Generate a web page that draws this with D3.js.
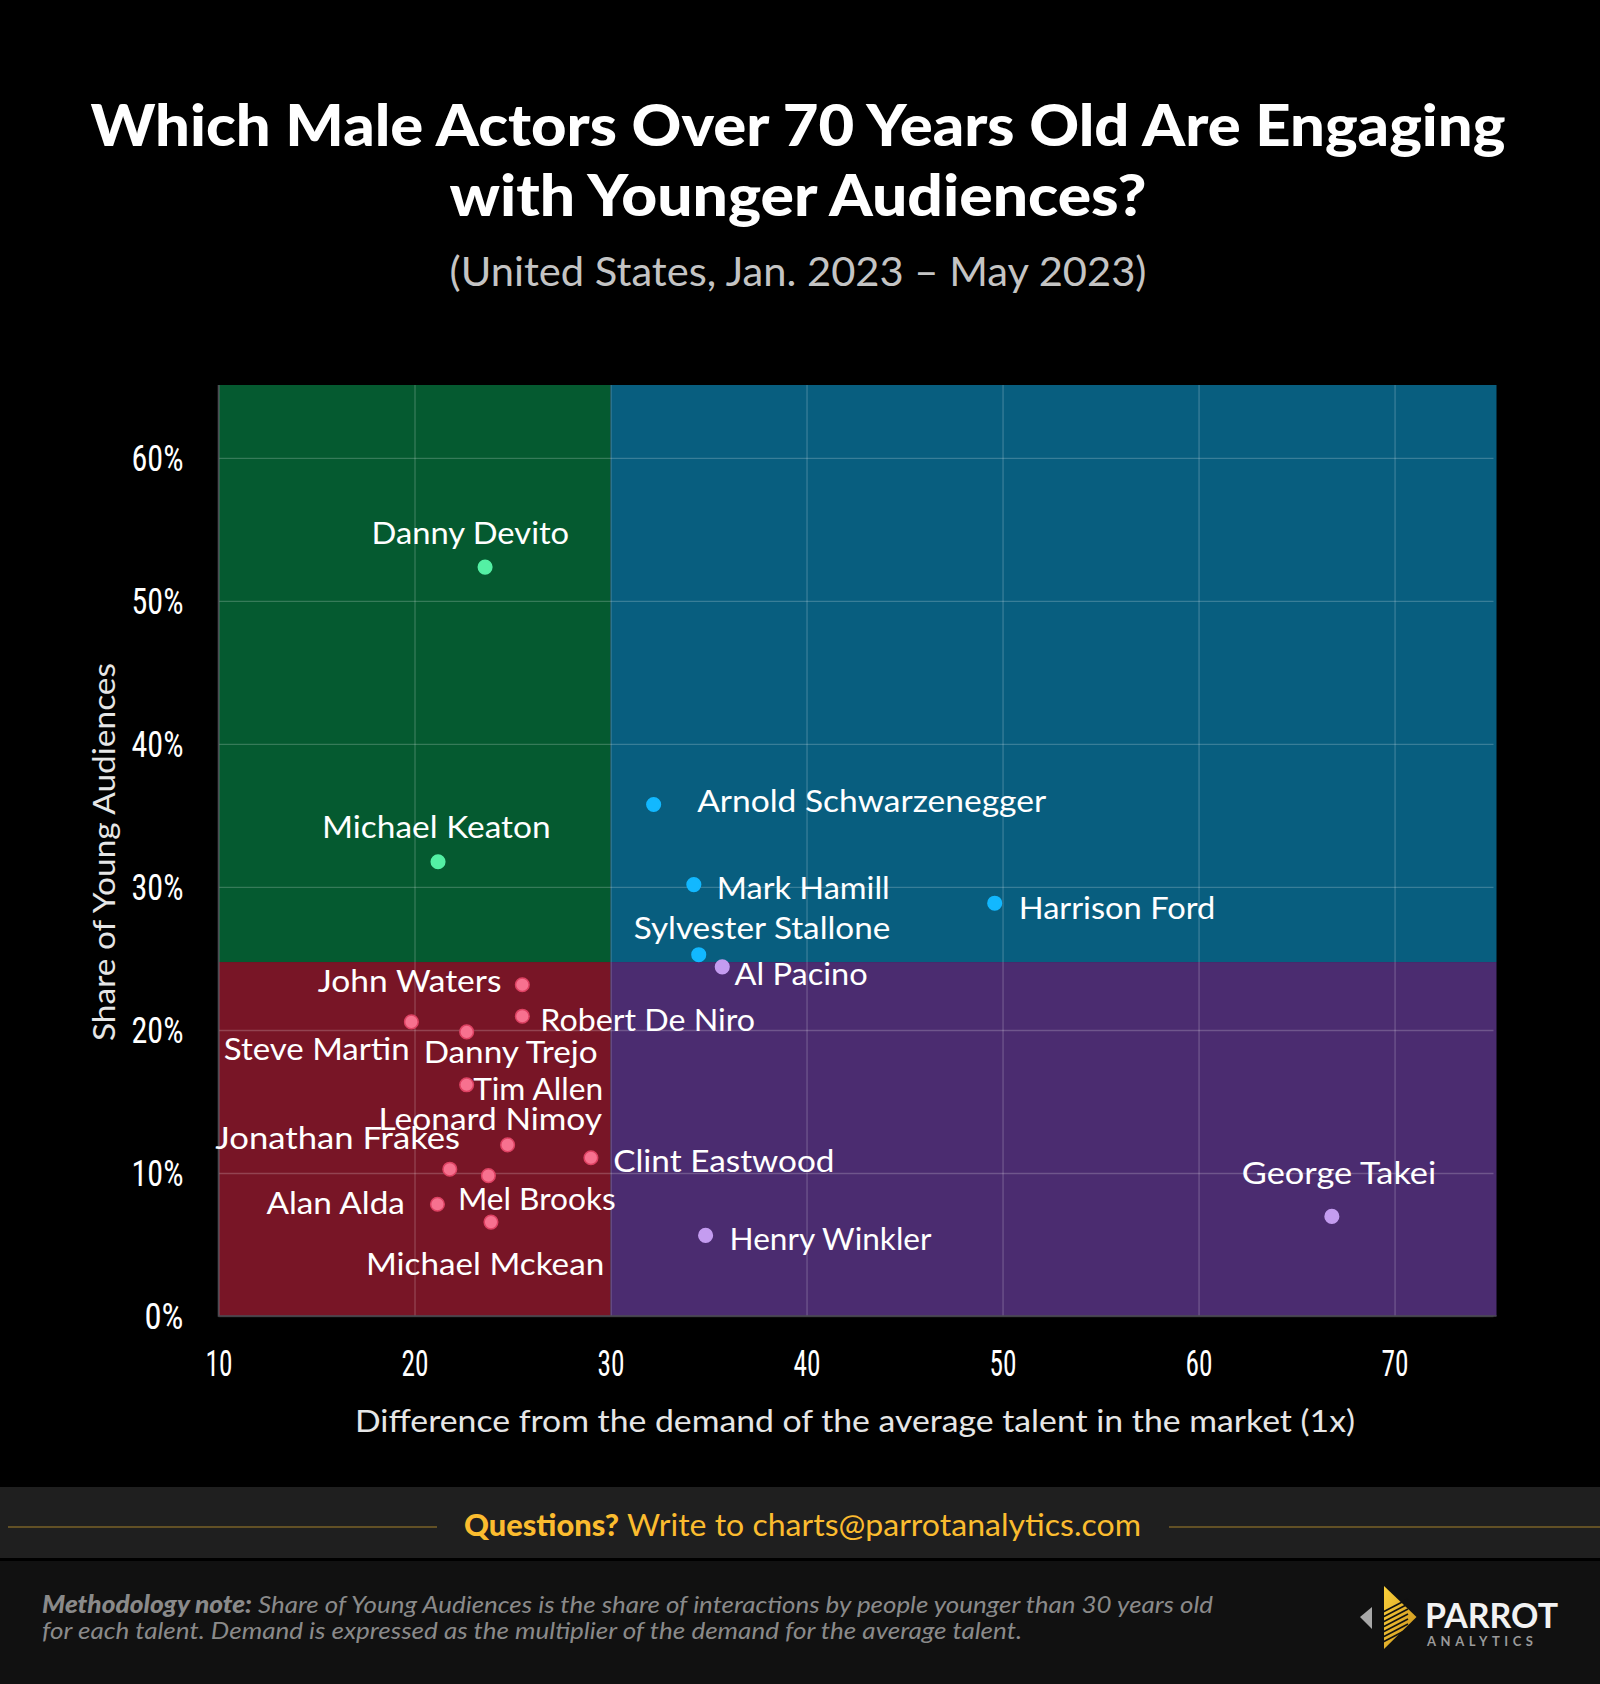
<!DOCTYPE html>
<html><head><meta charset="utf-8">
<script src="https://cdn.jsdelivr.net/npm/d3@7"></script>
<style>html,body{margin:0;padding:0;background:#000}svg{display:block}</style>
</head><body><svg id="c" width="1600" height="1684"></svg>
<script>
const names=["Danny Devito","Michael Keaton","Arnold Schwarzenegger","Mark Hamill","Harrison Ford","Sylvester Stallone","Al Pacino","George Takei","Henry Winkler","John Waters","Robert De Niro","Steve Martin","Danny Trejo","Tim Allen","Leonard Nimoy","Clint Eastwood","Jonathan Frakes","Mel Brooks","Alan Alda","Michael Mckean"];
const demand=[23.6,21.2,32.2,34.25,49.6,34.5,35.7,66.8,34.85,25.5,25.5,19.84,22.66,22.66,24.75,29.0,21.8,23.77,21.17,23.9];
const youngShare=[52.4,31.8,35.8,30.2,28.9,25.3,24.45,7.0,5.67,23.2,21.0,20.6,19.9,16.2,12.0,11.1,10.3,9.85,7.85,6.6];
const xTicks=[10,20,30,40,50,60,70];
const yTicks=[0,10,20,30,40,50,60];
const labelDx=[-113.5,-116,43.5,23,24,-65,12.3,-90,24,-204.5,18,-187.6,-43,6.5,-129,22.3,-234.5,-30.5,-171,-125];
const labelDy=[-22.5,-23.5,8,15,16,-15.5,19,-32,15.5,7.5,15,39,32,16,-14,15,-20,34.5,10.5,53];
const labelW=[197.6,228.6,349,172.9,196.5,256.6,133.2,194.4,201.9,183.6,214.8,185.8,174,130,223.4,221.2,244.8,157.8,138.5,238.3];
const F="'Lato','Noto Sans',sans-serif";
const N="'Liberation Sans Narrow','Roboto Condensed','Liberation Sans',sans-serif";
const svg=d3.select("#c");
svg.append("rect").attr("width",1600).attr("height",1684).attr("fill","#000");
const x=d3.scaleLinear().domain([10,75.2]).range([218.5,1496.5]);
const y=d3.scaleLinear().domain([0,65.1]).range([1316,385]);
const sx=30,sy=24.75;
const quads=[[10,sx,sy,65.1,"#055a30"],[sx,75.2,sy,65.1,"#085e7f"],[10,sx,0,sy,"#781526"],[sx,75.2,0,sy,"#4b2c70"]];
svg.selectAll("rect.q").data(quads).join("rect").attr("class","q")
 .attr("x",d=>x(d[0])).attr("width",d=>x(d[1])-x(d[0])).attr("y",d=>y(d[3])).attr("height",d=>y(d[2])-y(d[3])).attr("fill",d=>d[4]);
const gx=svg.append("g").attr("transform","translate(0,1316)").call(d3.axisBottom(x).tickValues(xTicks).tickSize(-931).tickPadding(34));
const gy=svg.append("g").attr("transform","translate(218.5,0)").call(d3.axisLeft(y).tickValues(yTicks).tickFormat(d=>d+"%").tickSize(-1275).tickPadding(35));
[gx,gy].forEach(g=>{g.select(".domain").remove();
 g.selectAll("line").attr("stroke","#fff").attr("stroke-opacity",.2).attr("stroke-width",1.3);
 g.selectAll("text").attr("fill","#fff").style("font-family",N).style("font-size","36px");});
gy.selectAll("text").attr("dy","0.35em").attr("textLength",d=>d===0?39:52).attr("lengthAdjust","spacingAndGlyphs");
gx.selectAll("text").attr("textLength",27).attr("lengthAdjust","spacingAndGlyphs");
svg.append("path").attr("d","M218.5,385V1316H1496.5").attr("fill","none").attr("stroke","#4a4a52").attr("stroke-width",1.6);
const pts=names.map((n,i)=>({n,d:demand[i],s:youngShare[i],dx:labelDx[i],dy:labelDy[i],w:labelW[i]}));
function col(p){return p.d<sx?(p.s>=sy?["#54f0a4","#54f0a4"]:["#f7718f","#de4263"]):(p.s>=sy?["#12b8ff","#12b8ff"]:["#c49cf0","#c49cf0"]);}
svg.append("g").selectAll("circle").data(pts).join("circle").attr("cx",p=>x(p.d)).attr("cy",p=>y(p.s)+0.5).attr("r",6.8)
 .attr("fill",p=>col(p)[0]).attr("stroke",p=>col(p)[1]).attr("stroke-width",1.5);
svg.append("g").selectAll("text").data(pts).join("text").attr("x",p=>x(p.d)+p.dx).attr("y",p=>y(p.s)+p.dy)
 .attr("fill","#fff").style("font-family",F).style("font-size","31px").attr("textLength",p=>p.w).attr("lengthAdjust","spacingAndGlyphs").text(p=>p.n);
function t(s,x0,yy,opt){const e=svg.append("text").attr("x",x0).attr("y",yy).attr("fill",opt.fill||"#fff")
 .style("font-family",F).style("font-size",opt.size+"px").style("font-weight",opt.w||400).style("font-style",opt.i?"italic":"normal");
 if(opt.anchor)e.attr("text-anchor",opt.anchor); if(opt.len)e.attr("textLength",opt.len).attr("lengthAdjust","spacingAndGlyphs"); e.text(s);return e;}
t("Which Male Actors Over 70 Years Old Are Engaging",798,146,{size:57,w:900,anchor:"middle",len:1415});
t("with Younger Audiences?",798,216,{size:57,w:900,anchor:"middle",len:697});
t("(United States, Jan. 2023 – May 2023)",798,286,{size:41,fill:"#c4c4c4",anchor:"middle",len:697});
t("Difference from the demand of the average talent in the market (1x)",855,1432,{size:31,fill:"#e6e6e6",anchor:"middle",len:1000});
t("Share of Young Audiences",0,0,{size:31,fill:"#e6e6e6",anchor:"middle",len:378}).attr("transform","translate(115,852) rotate(-90)");
// footer
svg.append("rect").attr("y",1487).attr("width",1600).attr("height",71).attr("fill","#1f1f1f");
svg.append("rect").attr("y",1561).attr("width",1600).attr("height",123).attr("fill","#111");
[[8,437],[1169,1600]].forEach(d=>svg.append("line").attr("x1",d[0]).attr("x2",d[1]).attr("y1",1527).attr("y2",1527).attr("stroke","#7a6228").attr("stroke-width",1.5));
t("Questions?",464,1536,{size:30,w:900,fill:"#fbbc2f",len:155});
t("Write to charts@parrotanalytics.com",627,1536,{size:30,fill:"#fbbc2f",len:514});
const mn="#8a8a8a";
t("Methodology note:",42,1613,{size:24,w:900,i:1,fill:mn,len:210});
t("Share of Young Audiences is the share of interactions by people younger than 30 years old",258,1613,{size:24,i:1,fill:mn,len:955});
t("for each talent. Demand is expressed as the multiplier of the demand for the average talent.",42,1639,{size:24,i:1,fill:mn,len:980});
// logo
const defs=svg.append("defs");const lg=defs.append("linearGradient").attr("id","gold").attr("x1",0).attr("y1",0).attr("x2",1).attr("y2",1);
lg.append("stop").attr("offset",0).attr("stop-color","#fbd03a");lg.append("stop").attr("offset",1).attr("stop-color","#c8901c");
svg.append("path").attr("d","M1384,1586L1416.5,1617L1384,1649Z").attr("fill","url(#gold)");
const stripeY=[1612,1617,1622,1627,1632,1637,1642];
svg.append("g").selectAll("line").data(stripeY).join("line").attr("x1",1383).attr("x2",1408).attr("y1",d=>d).attr("y2",d=>d-13).attr("stroke","#111").attr("stroke-width",1.6);
svg.append("path").attr("d","M1360,1617L1372,1607L1372,1629Z").attr("fill","#a8a8a8");
t("PARROT",1425,1628,{size:35,w:700,fill:"#f2f2f2",len:133});
t("ANALYTICS",1427,1646,{size:13,w:700,fill:"#9a9a9a",len:106}).attr("lengthAdjust","spacing");
</script></body></html>
